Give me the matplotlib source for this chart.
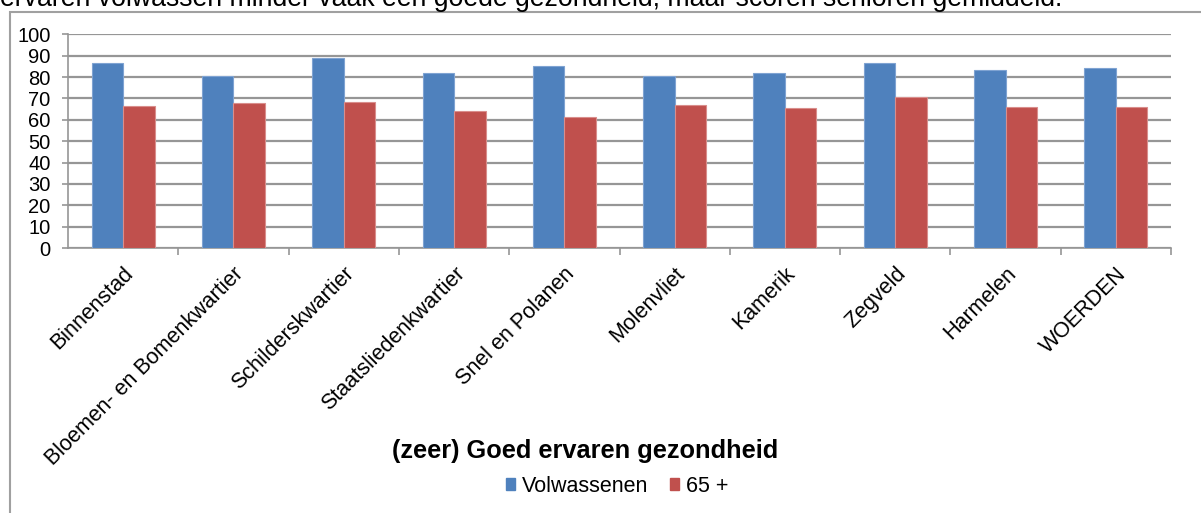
import matplotlib.pyplot as plt
import numpy as np
from matplotlib.patches import Patch, Rectangle

plt.rcParams['font.family'] = ['Liberation Sans', 'DejaVu Sans']

# data
wijken = ['Binnenstad', 'Bloemen- en Bomenkwartier', 'Schilderskwartier',
          'Staatsliedenkwartier', 'Snel en Polanen', 'Molenvliet', 'Kamerik',
          'Zegveld', 'Harmelen', 'WOERDEN']
volwassenen = [86.6, 80.4, 88.9, 82.1, 85.4, 80.5, 82.1, 86.6, 83.2, 84.0]
senioren = [66.4, 67.8, 68.1, 64.3, 61.1, 67.1, 65.3, 70.7, 65.9, 66.0]
yticks = list(range(0, 101, 10))

blue = '#4F81BD'
red = '#C0504D'
grid_col = '#969696'

W, H = 1201, 513
fig = plt.figure(figsize=(W / 100, H / 100), dpi=100)
ax = fig.add_axes([68 / W, 1 - 248 / H, (1171 - 68) / W, (248 - 34.3) / H])

x = np.arange(len(wijken))
bw = 0.286
ax.bar(x - bw / 2, volwassenen, bw, color=blue, edgecolor='#7FA3D2', linewidth=0.8,
       label='Volwassenen', zorder=3)
ax.bar(x + bw / 2, senioren, bw, color=red, edgecolor='#D98E8C', linewidth=0.8,
       label='65 +', zorder=3)

ax.set_xlim(-0.5, len(wijken) - 0.5)
ax.set_ylim(0, 100)
ax.set_yticks(yticks)
ax.yaxis.grid(True, color=grid_col, linewidth=1.6, zorder=0)
ax.tick_params(axis='y', length=4.5, width=1.2, color=grid_col, labelsize=14.5, pad=8)

# category labels at the centres, tick marks at the boundaries
ax.set_xticks(x)
ax.set_xticklabels(wijken, rotation=45, ha='right', rotation_mode='anchor', fontsize=15.5)
ax.tick_params(axis='x', which='major', length=0, pad=11)
ax.set_xticks(np.arange(0.5, len(wijken), 1.0), minor=True)
ax.tick_params(axis='x', which='minor', length=5, width=1.2, color=grid_col)

for side in ['top', 'right']:
    ax.spines[side].set_visible(False)
for side in ['left', 'bottom']:
    ax.spines[side].set_color(grid_col)
    ax.spines[side].set_linewidth(1.2)

# outer chart frame (runs off the right and bottom of the crop)
fig.patches.append(Rectangle((10 / W, -0.1), 1.2, 1 - 12 / H + 0.1, transform=fig.transFigure,
                             fill=False, edgecolor='#a0a0a0', linewidth=1.5))

# text from the page above the chart, cut off at the top
fig.text(0, 1 - 6.5 / H, 'ervaren volwassen minder vaak een goede gezondheid, maar scoren senioren gemiddeld.',
         fontsize=19.2, va='baseline', ha='left')

fig.text(585 / W, 1 - 458 / H, '(zeer) Goed ervaren gezondheid', fontsize=18.3,
         fontweight='bold', ha='center', va='baseline')

handles = [Patch(color=blue, label='Volwassenen'), Patch(color=red, label='65 +')]
fig.legend(handles=handles, loc='center', bbox_to_anchor=(617 / W, 1 - 486 / H), ncol=2,
           frameon=False, fontsize=15.5, handlelength=0.45, handleheight=0.45,
           handletextpad=0.3, columnspacing=1.0)

fig.savefig('out.png', dpi=100)
